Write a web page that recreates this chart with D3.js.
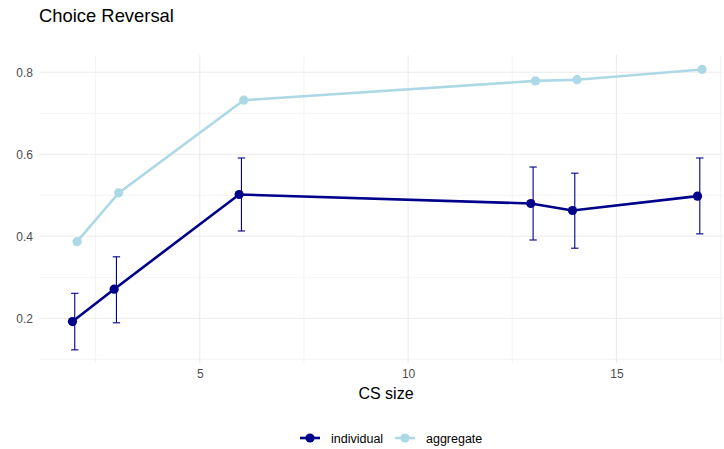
<!DOCTYPE html>
<html><head><meta charset="utf-8">
<script src="https://cdn.jsdelivr.net/npm/d3@7"></script>
<style>body{margin:0;background:#fff}svg{display:block;font-family:"Liberation Sans",Arial,sans-serif}</style>
</head><body>
<svg id="c" width="724" height="449"></svg>
<script>
const csSize = [2, 3, 6, 13, 14, 17];
const individual = [0.192, 0.271, 0.502, 0.480, 0.463, 0.498];
const individualLow = [0.123, 0.189, 0.413, 0.391, 0.371, 0.406];
const individualHigh = [0.261, 0.350, 0.591, 0.569, 0.554, 0.591];
const aggregate = [0.387, 0.506, 0.732, 0.779, 0.782, 0.807];
const xTicks = [5, 10, 15];
const xMinor = [2.5, 7.5, 12.5, 17.5];
const yTicks = [0.2, 0.4, 0.6, 0.8];
const yMinor = [0.1, 0.3, 0.5, 0.7];
const seriesNames = ["individual", "aggregate"];
const colors = {individual: "#00008B", aggregate: "#ADD8E6"};

const svg = d3.select("#c");
const L = 39, R = 723, T = 55, B = 363;
const x = d3.scaleLinear().domain([1.142, 17.557]).range([L, R]);
const y = d3.scaleLinear().domain([0.0910, 0.8422]).range([B, T]);
const dodge = 0.055;

const grid = svg.append("g");
yMinor.forEach(v => grid.append("line").attr("x1", L).attr("x2", R).attr("y1", y(v)).attr("y2", y(v)).attr("stroke", "#ebebeb").attr("stroke-width", 0.6));
xMinor.forEach(v => grid.append("line").attr("y1", T).attr("y2", B).attr("x1", x(v)).attr("x2", x(v)).attr("stroke", "#ebebeb").attr("stroke-width", 0.6));
yTicks.forEach(v => grid.append("line").attr("x1", L).attr("x2", R).attr("y1", y(v)).attr("y2", y(v)).attr("stroke", "#ebebeb").attr("stroke-width", 1.1));
xTicks.forEach(v => grid.append("line").attr("y1", T).attr("y2", B).attr("x1", x(v)).attr("x2", x(v)).attr("stroke", "#ebebeb").attr("stroke-width", 1.1));

// axes
const yAxis = d3.axisLeft(y).tickValues(yTicks).tickSize(0).tickPadding(6).tickFormat(d3.format(".1f"));
const gy = svg.append("g").attr("transform", `translate(${L},0)`).call(yAxis);
gy.select(".domain").remove();
gy.selectAll("text").attr("fill", "#4d4d4d").style("font-size", "12px");
const xAxis = d3.axisBottom(x).tickValues(xTicks).tickSize(0).tickPadding(6);
const gx = svg.append("g").attr("transform", `translate(0,${B})`).call(xAxis);
gx.select(".domain").remove();
gx.selectAll("text").attr("fill", "#4d4d4d").style("font-size", "12px");

const aggData = csSize.map((c, i) => ({x: c + dodge, y: aggregate[i]}));
const indData = csSize.map((c, i) => ({x: c - dodge, y: individual[i], lo: individualLow[i], hi: individualHigh[i], c}));
const line = d3.line().x(d => x(d.x)).y(d => y(d.y));

svg.append("path").datum(aggData).attr("d", line).attr("fill", "none").attr("stroke", colors.aggregate).attr("stroke-width", 2.6);
svg.selectAll(".pa").data(aggData).enter().append("circle").attr("cx", d => x(d.x)).attr("cy", d => y(d.y)).attr("r", 4.6).attr("fill", colors.aggregate);

// error bars
const eb = svg.append("g").attr("stroke", colors.individual).attr("stroke-width", 1.1);
indData.forEach(d => {
  const cx = x(d.c);
  eb.append("line").attr("x1", cx).attr("x2", cx).attr("y1", y(d.lo)).attr("y2", y(d.hi));
  eb.append("line").attr("x1", cx - 3.7).attr("x2", cx + 3.7).attr("y1", y(d.lo)).attr("y2", y(d.lo));
  eb.append("line").attr("x1", cx - 3.7).attr("x2", cx + 3.7).attr("y1", y(d.hi)).attr("y2", y(d.hi));
});
svg.append("path").datum(indData).attr("d", line).attr("fill", "none").attr("stroke", colors.individual).attr("stroke-width", 2.6);
svg.selectAll(".pi").data(indData).enter().append("circle").attr("cx", d => x(d.x)).attr("cy", d => y(d.y)).attr("r", 4.6).attr("fill", colors.individual);

// labels
svg.append("text").attr("x", 39).attr("y", 22).text("Choice Reversal").style("font-size", "18.4px").attr("fill", "#000");
svg.append("text").attr("x", 386).attr("y", 399).attr("text-anchor", "middle").text("CS size").style("font-size", "16px").attr("fill", "#000");

// legend
const lg = svg.append("g");
const legX = [300, 395];
seriesNames.forEach((s, i) => {
  const lx = legX[i];
  lg.append("line").attr("x1", lx).attr("x2", lx + 20).attr("y1", 438).attr("y2", 438).attr("stroke", colors[s]).attr("stroke-width", 2.6);
  lg.append("circle").attr("cx", lx + 10).attr("cy", 438).attr("r", 4.6).attr("fill", colors[s]);
  lg.append("text").attr("x", lx + 31).attr("y", 442.5).text(s).style("font-size", "12.5px").attr("fill", "#000");
});
</script>
</body></html>
